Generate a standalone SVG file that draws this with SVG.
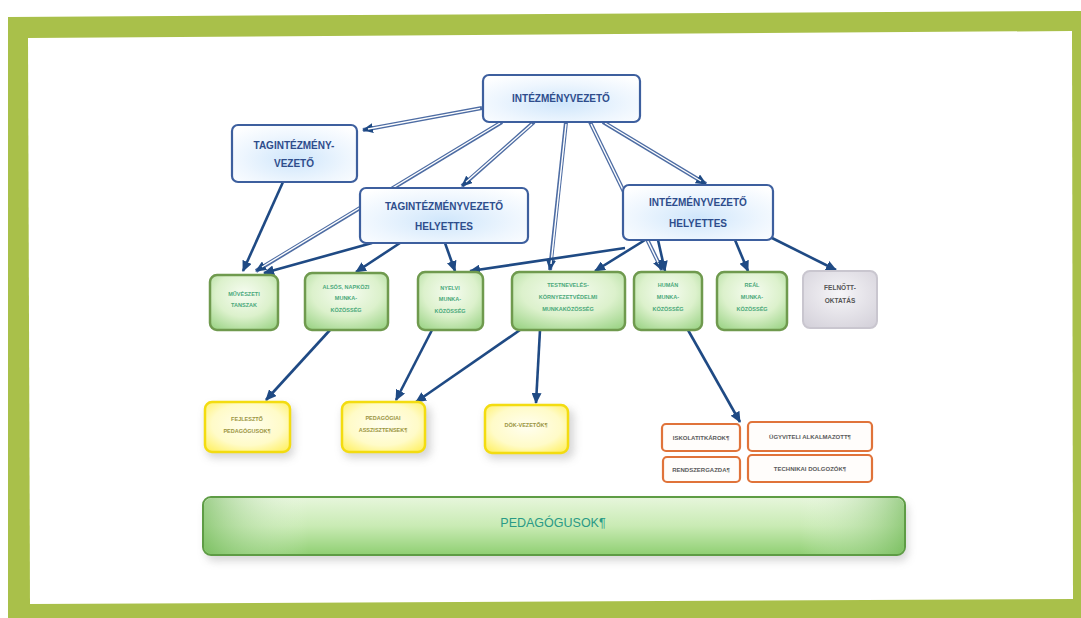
<svg xmlns="http://www.w3.org/2000/svg" width="1081" height="618" viewBox="0 0 1081 618">
<defs>
<style>
.t{font-family:"Liberation Sans",Arial,sans-serif;text-anchor:middle}
.bt{font-weight:bold;fill:#2e4d8c;font-size:10px}
.gt{fill:#4aa87a;font-size:5.5px;font-weight:bold}
.yt{fill:#9a9440;font-size:5.5px;font-weight:bold}
.ot{fill:#5a5a5a;font-size:6px;font-weight:bold}
.bluebox{fill:url(#gBlue);stroke:#3d5f9e;stroke-width:2.2}
.greenbox{fill:url(#gGreen);stroke:#6f9a4e;stroke-width:2.5}
.graybox{fill:url(#gGray);stroke:#c9c6cf;stroke-width:2}
.yelbox{fill:url(#gYel);stroke:#f3dc10;stroke-width:2.5}
.orbox{fill:#fffdfb;stroke:#e0733a;stroke-width:2.2}
.dbl{fill:none;stroke:#4d6ca3;stroke-width:4}
.dblin{fill:none;stroke:#ffffff;stroke-width:1.4}
.sol{fill:none;stroke:#1f4a84;stroke-width:2.6}
</style>
<radialGradient id="gBlue" cx="0.5" cy="0.6" r="0.7">
<stop offset="0" stop-color="#cfe6fb"/><stop offset="0.6" stop-color="#eef6fe"/><stop offset="1" stop-color="#ffffff"/>
</radialGradient>
<radialGradient id="gGreen" cx="0.5" cy="0.35" r="0.75">
<stop offset="0" stop-color="#f6fcf1"/><stop offset="0.55" stop-color="#dcf1cc"/><stop offset="1" stop-color="#9fd58a"/>
</radialGradient>
<radialGradient id="gGray" cx="0.5" cy="0.4" r="0.75">
<stop offset="0" stop-color="#f6f5f8"/><stop offset="1" stop-color="#d3d0d9"/>
</radialGradient>
<radialGradient id="gYel" cx="0.5" cy="0.45" r="0.7">
<stop offset="0" stop-color="#fffef0"/><stop offset="0.6" stop-color="#fffbc8"/><stop offset="1" stop-color="#fff060"/>
</radialGradient>
<linearGradient id="gBar" x1="0" y1="0" x2="0" y2="1">
<stop offset="0" stop-color="#e7f6dc"/><stop offset="0.5" stop-color="#c9ebb4"/><stop offset="1" stop-color="#8fcf72"/>
</linearGradient>
<linearGradient id="gBarH" x1="0" y1="0" x2="1" y2="0">
<stop offset="0" stop-color="#6fb657" stop-opacity="0.6"/><stop offset="0.15" stop-color="#ffffff" stop-opacity="0"/><stop offset="0.85" stop-color="#ffffff" stop-opacity="0"/><stop offset="1" stop-color="#6fb657" stop-opacity="0.6"/>
</linearGradient>
<filter id="sh" x="-30%" y="-30%" width="160%" height="160%">
<feGaussianBlur stdDeviation="4"/>
</filter>
<marker id="ah" markerUnits="userSpaceOnUse" markerWidth="12" markerHeight="10" refX="10" refY="5" orient="auto">
<path d="M0,0 L11,5 L0,10 Z" fill="#1f4a84"/>
</marker>
</defs>

<!-- frame -->
<rect x="0" y="0" width="1081" height="618" fill="#ffffff"/>
<polygon points="8,17 1081,11 1081,618 8,618" fill="#a9c04a"/>
<polygon points="28,38 1072,31 1073,599 30,604" fill="#ffffff"/>

<!-- shadows -->
<g opacity="0.35" fill="#8a8a8a" filter="url(#sh)">
<rect x="206" y="406" width="88" height="52" rx="8"/>
<rect x="343" y="406" width="88" height="52" rx="8"/>
<rect x="486" y="409" width="88" height="50" rx="8"/>
<rect x="206" y="503" width="702" height="58" rx="8"/>
</g>

<g id="connectors">
<path class="dbl" d="M482,108 L363,130" marker-end="url(#ah)"/><path class="dblin" d="M480,108.4 L368,129"/>
<path class="dbl" d="M502,122 L256,271" marker-end="url(#ah)"/><path class="dblin" d="M500,123 L262,267"/>
<path class="dbl" d="M534,122 L462,186" marker-end="url(#ah)"/><path class="dblin" d="M532,124 L466,182"/>
<path class="dbl" d="M566,122 L550,270" marker-end="url(#ah)"/><path class="dblin" d="M566,124 L551,264"/>
<path class="dbl" d="M590,122 L662,270" marker-end="url(#ah)"/><path class="dblin" d="M591,124 L659,264"/>
<path class="dbl" d="M603,122 L706,184" marker-end="url(#ah)"/><path class="dblin" d="M605,123 L701,181"/>
<path class="sol" d="M283,182 L243,271" marker-end="url(#ah)"/>
<path class="sol" d="M372,243 L264,273" marker-end="url(#ah)"/>
<path class="sol" d="M400,243 L356,272" marker-end="url(#ah)"/>
<path class="sol" d="M445,243 L455,271" marker-end="url(#ah)"/>
<path class="sol" d="M625,248 L470,271" marker-end="url(#ah)"/>
<path class="sol" d="M645,240 L595,271" marker-end="url(#ah)"/>
<path class="sol" d="M658,240 L665,271" marker-end="url(#ah)"/>
<path class="sol" d="M735,240 L748,271" marker-end="url(#ah)"/>
<path class="sol" d="M768,236 L836,270" marker-end="url(#ah)"/>
<path class="sol" d="M330,330 L266,400" marker-end="url(#ah)"/>
<path class="sol" d="M432,330 L396,400" marker-end="url(#ah)"/>
<path class="sol" d="M520,330 L416,402" marker-end="url(#ah)"/>
<path class="sol" d="M540,330 L536,403" marker-end="url(#ah)"/>
<path class="sol" d="M688,330 L740,422" marker-end="url(#ah)"/>
</g>

<g id="n-intezmenyvezeto">
<rect class="bluebox" x="483" y="75" width="157" height="47" rx="6"/>
<text class="t bt" x="561" y="102" font-size="10.5">INTÉZMÉNYVEZETŐ</text>
</g>
<g id="n-tagintezmenyvezeto">
<rect class="bluebox" x="232" y="125" width="125" height="57" rx="6"/>
<text class="t bt" x="294" y="149" font-size="9">TAGINTÉZMÉNY-</text>
<text class="t bt" x="294" y="167" font-size="9">VEZETŐ</text>
</g>
<g id="n-tag-helyettes">
<rect class="bluebox" x="360" y="188" width="168" height="55" rx="6"/>
<text class="t bt" x="444" y="210">TAGINTÉZMÉNYVEZETŐ</text>
<text class="t bt" x="444" y="230">HELYETTES</text>
</g>
<g id="n-int-helyettes">
<rect class="bluebox" x="623" y="185" width="150" height="55" rx="6"/>
<text class="t bt" x="698" y="206">INTÉZMÉNYVEZETŐ</text>
<text class="t bt" x="698" y="227">HELYETTES</text>
</g>

<g id="n-muveszeti">
<rect class="greenbox" x="210" y="275" width="68" height="55" rx="7"/>
<text class="t gt" x="244" y="296">MŰVÉSZETI</text>
<text class="t gt" x="244" y="307">TANSZAK</text>
</g>
<g id="n-alsos">
<rect class="greenbox" x="305" y="273" width="83" height="57" rx="7"/>
<text class="t gt" x="346" y="289">ALSÓS, NAPKÖZI</text>
<text class="t gt" x="346" y="300">MUNKA-</text>
<text class="t gt" x="346" y="312">KÖZÖSSÉG</text>
</g>
<g id="n-nyelvi">
<rect class="greenbox" x="418" y="272" width="65" height="58" rx="7"/>
<text class="t gt" x="450" y="290">NYELVI</text>
<text class="t gt" x="450" y="301">MUNKA-</text>
<text class="t gt" x="450" y="313">KÖZÖSSÉG</text>
</g>
<g id="n-testneveles">
<rect class="greenbox" x="512" y="272" width="113" height="58" rx="7"/>
<text class="t gt" x="568" y="287">TESTNEVELÉS-</text>
<text class="t gt" x="568" y="299">KÖRNYEZETVÉDELMI</text>
<text class="t gt" x="568" y="311">MUNKAKÖZÖSSÉG</text>
</g>
<g id="n-human">
<rect class="greenbox" x="634" y="272" width="68" height="58" rx="7"/>
<text class="t gt" x="668" y="287">HUMÁN</text>
<text class="t gt" x="668" y="299">MUNKA-</text>
<text class="t gt" x="668" y="311">KÖZÖSSÉG</text>
</g>
<g id="n-real">
<rect class="greenbox" x="717" y="272" width="70" height="58" rx="7"/>
<text class="t gt" x="752" y="287">REÁL</text>
<text class="t gt" x="752" y="299">MUNKA-</text>
<text class="t gt" x="752" y="311">KÖZÖSSÉG</text>
</g>
<g id="n-felnott">
<rect class="graybox" x="803" y="271" width="74" height="57" rx="7"/>
<text class="t" x="840" y="290" font-size="6.5" font-weight="bold" fill="#555555">FELNŐTT-</text>
<text class="t" x="840" y="303" font-size="6.5" font-weight="bold" fill="#555555">OKTATÁS</text>
</g>

<g id="n-fejleszto">
<rect class="yelbox" x="205" y="402" width="85" height="50" rx="7"/>
<text class="t yt" x="247" y="421">FEJLESZTŐ</text>
<text class="t yt" x="247" y="433">PEDAGÓGUSOK¶</text>
</g>
<g id="n-asszisztensek">
<rect class="yelbox" x="342" y="402" width="83" height="50" rx="7"/>
<text class="t yt" x="383" y="420">PEDAGÓGIAI</text>
<text class="t yt" x="383" y="432">ASSZISZTENSEK¶</text>
</g>
<g id="n-dok">
<rect class="yelbox" x="485" y="405" width="83" height="48" rx="7"/>
<text class="t yt" x="526" y="427">DÖK-VEZETŐK¶</text>
</g>

<g id="n-iskolatitkarok">
<rect class="orbox" x="662" y="424" width="78" height="27" rx="4"/>
<text class="t ot" x="701" y="440">ISKOLATITKÁROK¶</text>
</g>
<g id="n-ugyviteli">
<rect class="orbox" x="748" y="422" width="124" height="29" rx="4"/>
<text class="t ot" x="810" y="439">ÜGYVITELI ALKALMAZOTT¶</text>
</g>
<g id="n-rendszergazda">
<rect class="orbox" x="663" y="457" width="77" height="25" rx="4"/>
<text class="t ot" x="701" y="472">RENDSZERGAZDA¶</text>
</g>
<g id="n-technikai">
<rect class="orbox" x="748" y="455" width="124" height="27" rx="4"/>
<text class="t ot" x="810" y="471">TECHNIKAI DOLGOZÓK¶</text>
</g>

<g id="n-pedagogusok">
<rect x="203" y="497" width="702" height="58" rx="8" fill="url(#gBar)" stroke="#5e9c45" stroke-width="2"/>
<rect x="204" y="498" width="700" height="56" rx="8" fill="url(#gBarH)"/>
<text class="t" x="553" y="527" font-size="12.5" fill="#2a9a86">PEDAGÓGUSOK¶</text>
</g>
</svg>
